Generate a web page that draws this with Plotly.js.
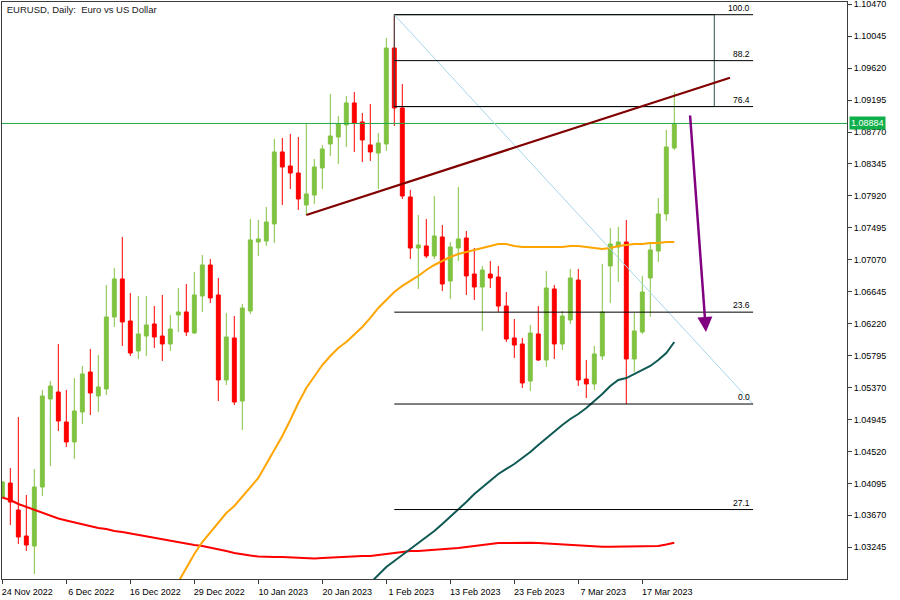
<!DOCTYPE html>
<html>
<head>
<meta charset="utf-8">
<script src="https://cdn.plot.ly/plotly-3.0.1.min.js"></script>
<style>html,body{margin:0;padding:0;background:#fff;}#chart{width:900px;height:600px;}</style>
</head>
<body>
<div id="chart"></div>
<script>
// ---- data ----
const dates = ['2022-11-24','2022-11-25','2022-11-28','2022-11-29','2022-11-30','2022-12-01','2022-12-02','2022-12-05','2022-12-06','2022-12-07','2022-12-08','2022-12-09','2022-12-12','2022-12-13','2022-12-14','2022-12-15','2022-12-16','2022-12-19','2022-12-20','2022-12-21','2022-12-22','2022-12-23','2022-12-27','2022-12-28','2022-12-29','2022-12-30','2023-01-02','2023-01-03','2023-01-04','2023-01-05','2023-01-06','2023-01-09','2023-01-10','2023-01-11','2023-01-12','2023-01-13','2023-01-16','2023-01-17','2023-01-18','2023-01-19','2023-01-20','2023-01-23','2023-01-24','2023-01-25','2023-01-26','2023-01-27','2023-01-30','2023-01-31','2023-02-01','2023-02-02','2023-02-03','2023-02-06','2023-02-07','2023-02-08','2023-02-09','2023-02-10','2023-02-13','2023-02-14','2023-02-15','2023-02-16','2023-02-17','2023-02-20','2023-02-21','2023-02-22','2023-02-23','2023-02-24','2023-02-27','2023-02-28','2023-03-01','2023-03-02','2023-03-03','2023-03-06','2023-03-07','2023-03-08','2023-03-09','2023-03-10','2023-03-13','2023-03-14','2023-03-15','2023-03-16','2023-03-17','2023-03-20','2023-03-21','2023-03-22','2023-03-23'];

const open = [1.03914,1.04100,1.03741,1.03395,1.03262,1.04047,1.05218,1.05311,1.04912,1.04646,1.05045,1.05577,1.05258,1.05351,1.06309,1.06815,1.06256,1.05857,1.06056,1.06216,1.06056,1.05950,1.06336,1.06376,1.06096,1.06588,1.07001,1.06602,1.05471,1.06030,1.05191,1.06389,1.07307,1.07320,1.07547,1.08505,1.08318,1.08225,1.07799,1.07932,1.08292,1.08611,1.08704,1.08864,1.09157,1.08904,1.08598,1.08491,1.08611,1.09888,1.09090,1.07906,1.07227,1.07254,1.07121,1.07374,1.06788,1.07227,1.07360,1.06881,1.06708,1.06881,1.06841,1.06455,1.06030,1.05950,1.05457,1.06083,1.05737,1.06682,1.05950,1.06269,1.06801,1.05484,1.05418,1.05790,1.06988,1.07240,1.07307,1.05750,1.06109,1.06828,1.07187,1.07680,1.08558];
const high = [1.04127,1.04300,1.04978,1.03941,1.04287,1.05338,1.05457,1.05950,1.05338,1.05497,1.05657,1.05883,1.05803,1.06735,1.06961,1.07374,1.06628,1.06588,1.06588,1.06455,1.06602,1.06336,1.06695,1.06748,1.06908,1.07134,1.07081,1.06828,1.06362,1.06322,1.06482,1.07613,1.07600,1.07773,1.08678,1.08691,1.08744,1.08704,1.08890,1.08411,1.08598,1.09276,1.08984,1.09250,1.09303,1.09023,1.09143,1.08757,1.10021,1.10331,1.09409,1.07999,1.07666,1.07613,1.07919,1.07533,1.07307,1.08039,1.07453,1.07227,1.06988,1.07054,1.06988,1.06642,1.06282,1.06030,1.06203,1.06455,1.06921,1.06735,1.06389,1.06948,1.06948,1.05737,1.05923,1.07014,1.07493,1.07507,1.07600,1.06362,1.06855,1.07307,1.07892,1.08797,1.09303];
const low = [1.03900,1.03541,1.03289,1.03195,1.02889,1.03927,1.04326,1.04792,1.04579,1.04420,1.04885,1.05005,1.05045,1.05271,1.06176,1.05923,1.05790,1.05750,1.05790,1.05897,1.05724,1.05857,1.06109,1.06056,1.06083,1.06376,1.06495,1.05191,1.05404,1.05138,1.04805,1.06349,1.07121,1.07254,1.07294,1.07799,1.08012,1.07733,1.07666,1.07813,1.08012,1.08451,1.08345,1.08571,1.08505,1.08371,1.08385,1.08012,1.08518,1.08850,1.07879,1.07081,1.06682,1.07094,1.07081,1.06655,1.06549,1.07054,1.06602,1.06535,1.06123,1.06695,1.06376,1.05976,1.05764,1.05364,1.05324,1.05724,1.05644,1.05750,1.05870,1.06216,1.05391,1.05231,1.05338,1.05737,1.06495,1.06775,1.05151,1.05577,1.06083,1.06309,1.07041,1.07586,1.08531];
const close = [1.04114,1.03847,1.03382,1.03275,1.04047,1.05258,1.05391,1.04925,1.04646,1.05058,1.05551,1.05298,1.05378,1.06309,1.06815,1.06243,1.05830,1.06083,1.06203,1.06043,1.05950,1.06149,1.06376,1.06109,1.06602,1.07001,1.06562,1.05471,1.06043,1.05178,1.06429,1.07334,1.07347,1.07573,1.08505,1.08305,1.08225,1.07879,1.07946,1.08305,1.08544,1.08717,1.08877,1.09157,1.08890,1.08664,1.08505,1.08624,1.09888,1.09090,1.07919,1.07227,1.07267,1.07121,1.07387,1.06748,1.07240,1.07347,1.06855,1.06708,1.06934,1.06828,1.06455,1.06016,1.05936,1.05431,1.06096,1.05737,1.06695,1.05950,1.06322,1.06828,1.05471,1.05418,1.05817,1.06376,1.07280,1.07307,1.05750,1.06123,1.06642,1.07201,1.07680,1.08571,1.08884];

// moving averages (null where off the chart)
const maOrange = [null,null,null,null,null,null,null,null,null,null,null,null,null,null,null,null,null,null,null,null,null,
  1.02597,1.02783,1.02969,1.03156,1.03315,1.03448,1.03581,1.03701,1.03794,1.03914,1.04034,1.04167,1.04353,1.04539,1.04726,1.04939,1.05165,1.05364,1.05524,1.05670,1.05790,1.05897,1.05976,1.06070,1.06176,1.06296,1.06429,1.06535,1.06642,1.06722,1.06788,1.06855,1.06934,1.07001,1.07054,1.07107,1.07147,1.07174,1.07201,1.07227,1.07254,1.07280,1.07280,1.07254,1.07240,1.07240,1.07240,1.07240,1.07240,1.07240,1.07254,1.07254,1.07240,1.07227,1.07214,1.07227,1.07254,1.07267,1.07280,1.07280,1.07294,1.07294,1.07307,1.07307];
const maTeal = [null,null,null,null,null,null,null,null,null,null,null,null,null,null,null,null,null,null,null,null,null,null,null,null,null,null,null,null,null,null,null,null,null,null,null,null,null,null,null,null,null,null,null,null,null,null,
  1.02770,1.02876,1.02983,1.03062,1.03142,1.03222,1.03302,1.03382,1.03462,1.03555,1.03648,1.03741,1.03847,1.03954,1.04047,1.04127,1.04220,1.04287,1.04353,1.04433,1.04513,1.04606,1.04699,1.04792,1.04872,1.04952,1.05018,1.05098,1.05191,1.05284,1.05391,1.05471,1.05497,1.05551,1.05604,1.05657,1.05737,1.05830,1.05976];
const maRed = [1.03907,1.03874,1.03821,1.03781,1.03741,1.03701,1.03661,1.03628,1.03601,1.03575,1.03548,1.03528,1.03501,1.03488,1.03462,1.03448,1.03428,1.03408,1.03395,1.03375,1.03355,1.03335,1.03309,1.03295,1.03275,1.03262,1.03242,1.03222,1.03195,1.03169,1.03149,1.03136,1.03122,1.03116,1.03116,1.03116,1.03109,1.03109,1.03096,1.03096,1.03102,1.03109,1.03116,1.03116,1.03122,1.03129,1.03129,1.03142,1.03156,1.03169,1.03182,1.03195,1.03195,1.03202,1.03209,1.03222,1.03229,1.03235,1.03249,1.03262,1.03275,1.03289,1.03302,1.03302,1.03306,1.03306,1.03306,1.03302,1.03295,1.03289,1.03282,1.03275,1.03269,1.03262,1.03255,1.03253,1.03253,1.03253,1.03253,1.03253,1.03253,1.03253,1.03262,1.03282,1.03306];

// axis ticks
const yTicks = [1.10470,1.10045,1.09620,1.09195,1.08770,1.08345,1.07920,1.07495,1.07070,1.06645,1.06220,1.05795,1.05370,1.04945,1.04520,1.04095,1.03670,1.03245];
const xTickDates = ['2022-11-24','2022-12-06','2022-12-16','2022-12-29','2023-01-10','2023-01-20','2023-02-01','2023-02-13','2023-02-23','2023-03-07','2023-03-17'];
const xTickLabels = ['24 Nov 2022','6 Dec 2022','16 Dec 2022','29 Dec 2022','10 Jan 2023','20 Jan 2023','1 Feb 2023','13 Feb 2023','23 Feb 2023','7 Mar 2023','17 Mar 2023'];

// current price
const lastPrice = 1.08884;

// Fibonacci retracement (anchor high / low, levels in %)
const fibHighDate = '2023-02-02';
const fibHigh = 1.10331;
const fibLow = 1.05151;
const fibEndPos = 93.85;      // bar position of the right anchor (future)
const fibLevels = [100.0, 88.2, 76.4, 23.6, 0.0, -27.1];
const fibBoxEndPos = 89.0;    // rectangle drawn from 100 to 76.4
// trend line
const trendStartDate = '2023-01-18';
const trendStartPrice = 1.07666;
const trendEndPos = 90.96;
const trendEndPrice = 1.09493;
// forecast arrow
const arrowFromPos = 85.96, arrowFromPrice = 1.09010;
const arrowToPos = 87.96, arrowToPrice = 1.06109;

// ---- chart ----
const FONT = 'Liberation Sans, Arial, sans-serif';
const traces = [
  {
    type: 'candlestick', x: dates, open: open, high: high, low: low, close: close,
    increasing: {line: {color: '#80C342', width: 1}, fillcolor: '#80C342'},
    decreasing: {line: {color: '#FF0000', width: 1}, fillcolor: '#FF0000'},
    whiskerwidth: 0, hoverinfo: 'skip', showlegend: false
  },
  {type: 'scatter', mode: 'lines', x: dates, y: maRed, line: {color: '#FF0000', width: 2}, hoverinfo: 'skip', showlegend: false},
  {type: 'scatter', mode: 'lines', x: dates, y: maOrange, line: {color: '#FFA500', width: 2}, hoverinfo: 'skip', showlegend: false},
  {type: 'scatter', mode: 'lines', x: dates, y: maTeal, line: {color: '#0E5953', width: 2}, hoverinfo: 'skip', showlegend: false}
];

const fibPrice = lv => fibLow + (fibHigh - fibLow) * lv / 100;
const shapes = [];
const annotations = [];

// current price line
shapes.push({type: 'line', xref: 'paper', x0: 0, x1: 1, yref: 'y', y0: lastPrice, y1: lastPrice,
  line: {color: '#22A84A', width: 1}, layer: 'above'});
annotations.push({xref: 'paper', x: 1, yref: 'y', y: lastPrice, xanchor: 'left', yanchor: 'middle',
  xshift: 2, text: lastPrice.toFixed(5), showarrow: false, bgcolor: '#0FB04A', borderpad: 1,
  font: {family: FONT, size: 9, color: '#FFFFFF'}});

// fib rectangle
shapes.push({type: 'rect', xref: 'x', yref: 'y', x0: fibHighDate, x1: fibBoxEndPos, y0: fibPrice(76.4), y1: fibHigh,
  line: {color: '#2F4F4F', width: 1}, fillcolor: 'rgba(0,0,0,0)'});
// fib diagonal
shapes.push({type: 'line', xref: 'x', yref: 'y', x0: fibHighDate, x1: fibEndPos, y0: fibHigh, y1: fibLow,
  line: {color: '#A6D6EA', width: 1}});
// fib levels
fibLevels.forEach(lv => {
  const p = fibPrice(lv);
  shapes.push({type: 'line', xref: 'x', yref: 'y', x0: fibHighDate, x1: fibEndPos, y0: p, y1: p,
    line: {color: '#000000', width: 1}});
  annotations.push({xref: 'x', yref: 'y', x: fibEndPos, y: p, xanchor: 'right', yanchor: 'bottom',
    xshift: -1, yshift: 0, text: Math.abs(lv).toFixed(1), showarrow: false,
    font: {family: FONT, size: 8.5, color: '#000000'}});
});
// trend line
shapes.push({type: 'line', xref: 'x', yref: 'y', x0: trendStartDate, x1: trendEndPos, y0: trendStartPrice, y1: trendEndPrice,
  line: {color: '#800000', width: 2.2}});
// arrow
annotations.push({xref: 'x', yref: 'y', axref: 'x', ayref: 'y', x: arrowToPos, y: arrowToPrice,
  ax: arrowFromPos, ay: arrowFromPrice, text: '', showarrow: true, arrowhead: 2, arrowsize: 1.2,
  arrowwidth: 2.5, arrowcolor: '#800080', standoff: 0});

const layout = {
  width: 900, height: 600,
  margin: {l: 2, r: 53, t: 2, b: 21, pad: 0},
  paper_bgcolor: '#FFFFFF', plot_bgcolor: '#FFFFFF',
  font: {family: FONT, size: 9, color: '#000000'},
  showlegend: false,
  title: {text: 'EURUSD, Daily:\u00A0 Euro vs US Dollar', xref: 'container', yref: 'container',
    x: 0.0075, xanchor: 'left', y: 0.984, yanchor: 'middle', font: {family: FONT, size: 9.5, color: '#1A1A1A'}},
  xaxis: {
    type: 'category', range: [-0.04, 105.59], fixedrange: true,
    rangeslider: {visible: false},
    showgrid: false, zeroline: false,
    showline: true, mirror: true, linecolor: '#3C3C3C', linewidth: 1,
    ticks: 'outside', ticklen: 4, tickcolor: '#3C3C3C',
    tickmode: 'array', tickvals: xTickDates, ticktext: xTickLabels,
    ticklabelshift: 25, tickangle: 0, ticklabeloverflow: 'allow',
    tickfont: {family: FONT, size: 9, color: '#000000'}
  },
  yaxis: {
    side: 'right', range: [1.02823, 1.10500], fixedrange: true,
    showgrid: false, zeroline: false,
    showline: true, mirror: true, linecolor: '#3C3C3C', linewidth: 1,
    ticks: 'outside', ticklen: 4, tickcolor: '#3C3C3C',
    tickmode: 'array', tickvals: yTicks, ticktext: yTicks.map(v => v.toFixed(5)),
    ticklabeloverflow: 'allow',
    tickfont: {family: FONT, size: 9, color: '#000000'}
  },
  boxgap: 0.3, boxgroupgap: 0.3,
  shapes: shapes, annotations: annotations
};

Plotly.newPlot('chart', traces, layout, {staticPlot: true, displayModeBar: false});
</script>
</body>
</html>
